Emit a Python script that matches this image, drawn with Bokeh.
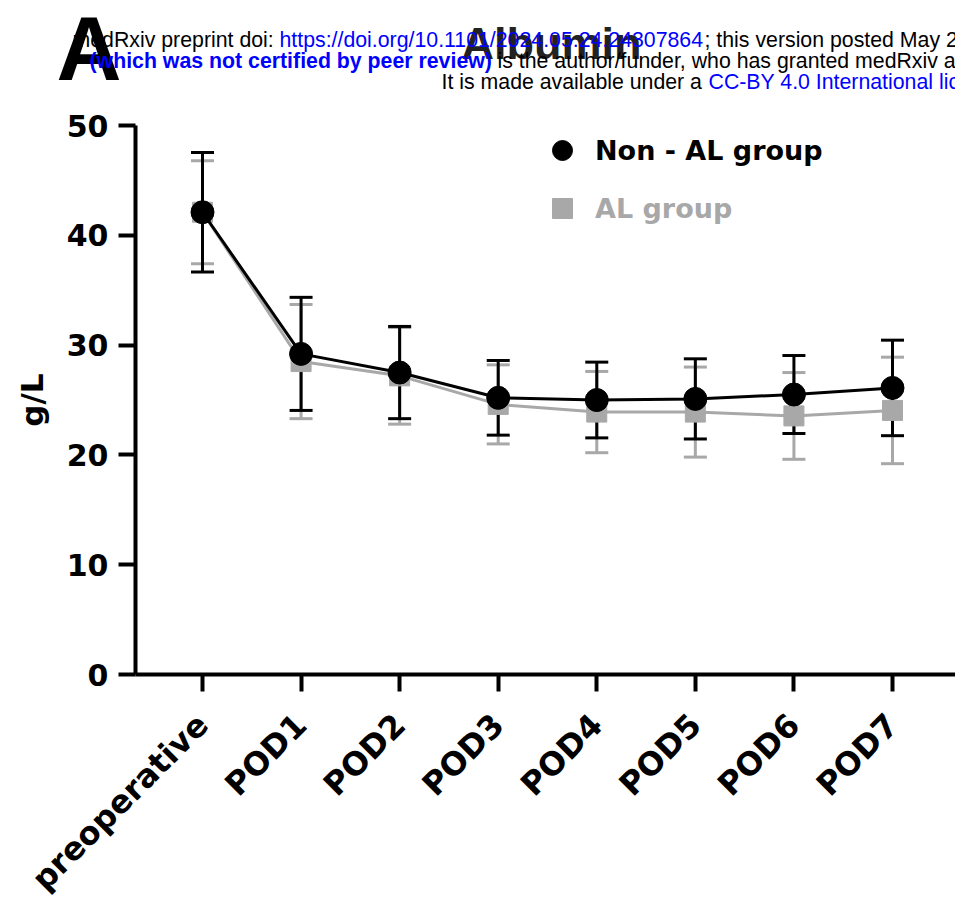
from math import pi
from bokeh.plotting import figure
from bokeh.models import (Range1d, FixedTicker, Whisker, TeeHead, ColumnDataSource,
                          Legend, LegendItem, Label)
from bokeh.embed import file_html
from bokeh.resources import INLINE

# ---------------- data ----------------
categories = ["preoperative", "POD1", "POD2", "POD3", "POD4", "POD5", "POD6", "POD7"]
nonal_mean = [42.1, 29.2, 27.5, 25.2, 25.0, 25.1, 25.5, 26.1]
nonal_sd = [5.45, 5.15, 4.2, 3.4, 3.45, 3.65, 3.55, 4.35]
al_mean = [42.1, 28.5, 27.2, 24.6, 23.9, 23.9, 23.55, 24.05]
al_sd = [4.7, 5.2, 4.4, 3.6, 3.7, 4.1, 3.95, 4.85]
y_ticks = [0, 10, 20, 30, 40, 50]
y_label = "g/L"
title_text = "Albumin"
panel_letter = "A"
series_names = ["Non - AL group", "AL group"]

BLACK = "#000000"
GRAY = "#a8a8a8"
CHART_FONT = "DejaVu Sans"
HEAD_FONT = "Liberation Sans"
BLUE = "#0000ff"
HEAD_SIZE = "21.3px"

W, H = 955, 906
# layout of the plotting area in canvas pixels
X0, DX = 202.0, 98.57      # pixel of first category, pixels per category
Y0, DY = 674.0, 10.98      # pixel of value 0, pixels per unit
AXIS_X = -0.68             # where the value axis sits (category units)

xs = list(range(len(categories)))
src_non = ColumnDataSource(dict(
    x=xs, y=nonal_mean,
    upper=[m + s for m, s in zip(nonal_mean, nonal_sd)],
    lower=[m - s for m, s in zip(nonal_mean, nonal_sd)]))
src_al = ColumnDataSource(dict(
    x=xs, y=al_mean,
    upper=[m + s for m, s in zip(al_mean, al_sd)],
    lower=[m - s for m, s in zip(al_mean, al_sd)]))

x_end = (W - X0) / DX
p = figure(width=W, height=H,
           x_range=Range1d(-X0 / DX, x_end),
           y_range=Range1d((Y0 - H) / DY, Y0 / DY),
           output_backend="svg", toolbar_location=None,
           min_border=0, min_border_left=0, min_border_right=0,
           min_border_top=0, min_border_bottom=0)
p.outline_line_color = None
p.grid.visible = False
p.background_fill_color = "white"

# ---------------- axes ----------------
for ax in (p.xaxis[0], p.yaxis[0]):
    ax.axis_line_width = 4
    ax.axis_line_color = BLACK
    ax.major_tick_line_width = 4
    ax.major_tick_line_color = BLACK
    ax.major_tick_out = 17
    ax.major_tick_in = 0
    ax.minor_tick_line_color = None
    ax.major_label_text_font = CHART_FONT
    ax.major_label_text_font_style = "bold"
    ax.major_label_text_color = BLACK

yax = p.yaxis[0]
yax.fixed_location = AXIS_X
yax.bounds = (y_ticks[0], y_ticks[-1])
yax.ticker = FixedTicker(ticks=y_ticks)
yax.major_label_text_font_size = "30px"
yax.major_label_standoff = 10
yax.axis_label = y_label
yax.axis_label_text_font = CHART_FONT
yax.axis_label_text_font_style = "bold"
yax.axis_label_text_font_size = "31px"
yax.axis_label_text_color = BLACK
yax.axis_label_standoff = 14

xax = p.xaxis[0]
xax.fixed_location = 0
xax.bounds = (AXIS_X, x_end)
xax.ticker = FixedTicker(ticks=xs)
xax.major_label_overrides = {i: c for i, c in enumerate(categories)}
xax.major_label_orientation = pi / 4
xax.major_label_text_font_size = "32px"
xax.major_label_standoff = 28

# ---------------- AL group (gray, underneath) ----------------
w_al = Whisker(base="x", upper="upper", lower="lower", source=src_al,
               dimension="height", line_color=GRAY, line_width=3, level="underlay",
               upper_head=TeeHead(size=23, line_color=GRAY, line_width=3),
               lower_head=TeeHead(size=23, line_color=GRAY, line_width=3))
p.add_layout(w_al)
p.line("x", "y", source=src_al, line_color=GRAY, line_width=3)
r_al = p.scatter("x", "y", source=src_al, marker="square", size=20,
                 fill_color=GRAY, line_color=GRAY)

# ---------------- Non-AL group (black) ----------------
p.line("x", "y", source=src_non, line_color=BLACK, line_width=3)
r_non = p.scatter("x", "y", source=src_non, marker="circle", size=23,
                  fill_color=BLACK, line_color=BLACK)
w_non = Whisker(base="x", upper="upper", lower="lower", source=src_non,
                dimension="height", line_color=BLACK, line_width=3,
                upper_head=TeeHead(size=23, line_color=BLACK, line_width=3),
                lower_head=TeeHead(size=23, line_color=BLACK, line_width=3))
p.add_layout(w_non)

# ---------------- legends ----------------
def make_legend(name, rend, color, loc):
    lg = Legend(items=[LegendItem(label=name, renderers=[rend])], location=loc,
                glyph_width=50, glyph_height=50, label_standoff=8, padding=0, margin=0,
                spacing=0, border_line_color=None, background_fill_alpha=0,
                label_text_font=CHART_FONT, label_text_font_style="bold",
                label_text_font_size="27px", label_text_color=color)
    p.add_layout(lg)

make_legend(series_names[0], r_non, BLACK, (537, H - 175))
make_legend(series_names[1], r_al, GRAY, (537, H - 233))

# ---------------- title, panel letter, header ----------------
def lab(text, x, y, size, color, font, style="normal", align="left"):
    p.add_layout(Label(x=x, y=H - y, x_units="screen", y_units="screen",
                       text=text, text_font=font, text_font_size=size,
                       text_font_style=style, text_color=color,
                       text_align=align, text_baseline="middle"))

lab(panel_letter, 56, 48, "90px", BLACK, HEAD_FONT, "bold")
lab(title_text, 551, 43, "45px", "#222222", HEAD_FONT, "bold", "center")

lab("medRxiv preprint doi: ", 72, 39, HEAD_SIZE, BLACK, HEAD_FONT)
lab("https://doi.org/10.1101/2024.05.24.24307864", 279, 39, HEAD_SIZE, BLUE, HEAD_FONT)
lab("; this version posted May 25", 704, 39, HEAD_SIZE, BLACK, HEAD_FONT)
lab("(which was not certified by peer review)", 89, 60, HEAD_SIZE, BLUE, HEAD_FONT, "bold")
lab("is the author/funder, who has granted medRxiv a", 497, 60, HEAD_SIZE, BLACK, HEAD_FONT)
lab("It is made available under a", 441, 81, HEAD_SIZE, BLACK, HEAD_FONT)
lab("CC-BY 4.0 International license", 708, 81, HEAD_SIZE, BLUE, HEAD_FONT)

open("out.html", "w").write(file_html(p, INLINE))
